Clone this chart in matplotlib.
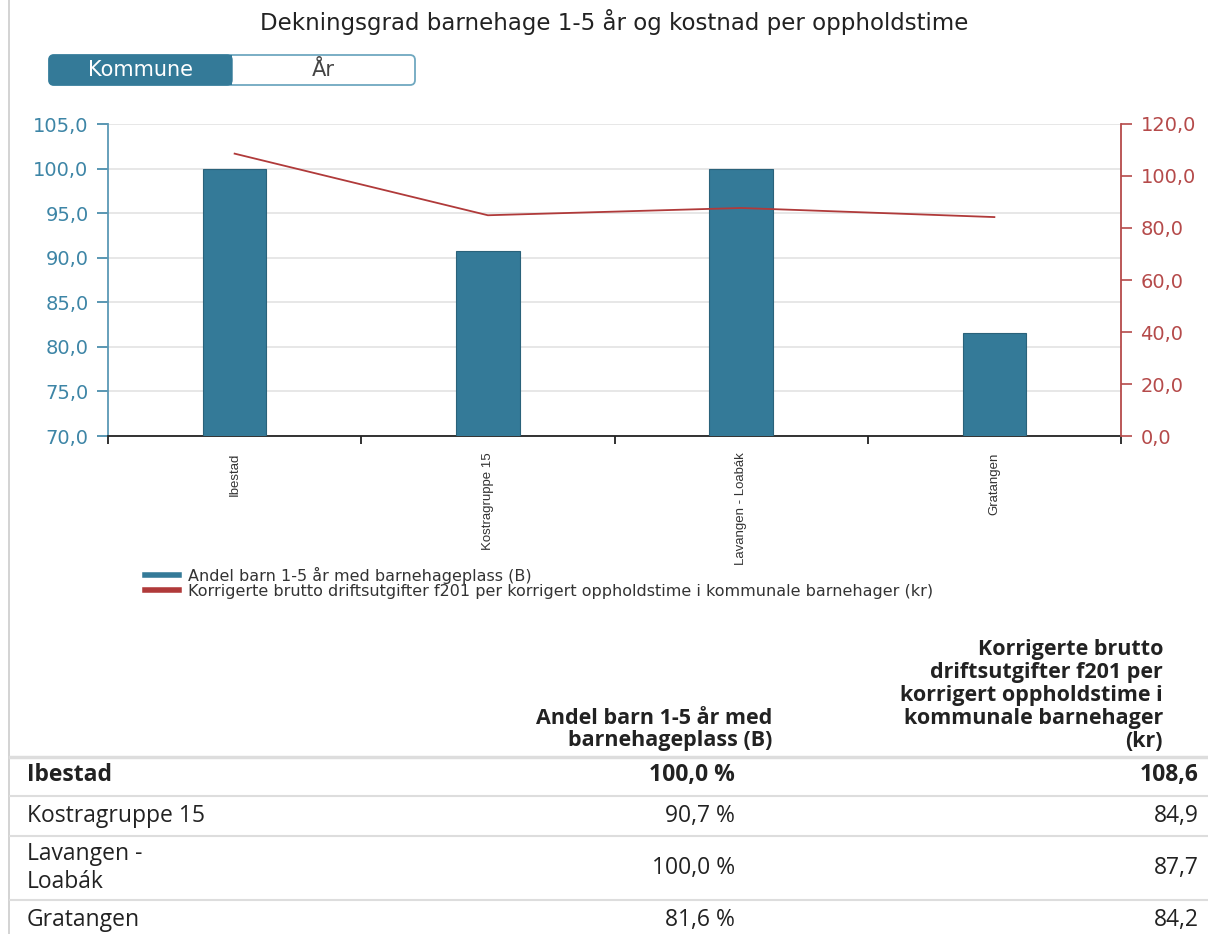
import matplotlib
matplotlib.use("Agg")
import matplotlib.pyplot as plt
from matplotlib.patches import FancyBboxPatch, Rectangle
from matplotlib.lines import Line2D
from matplotlib.ticker import FixedLocator, FuncFormatter

# ---- data ----
categories = ["Ibestad", "Kostragruppe 15", "Lavangen - Loabák", "Gratangen"]
table_labels = ["Ibestad", "Kostragruppe 15", "Lavangen -\nLoabák", "Gratangen"]
coverage = [100.0, 90.7, 100.0, 81.6]          # Andel barn 1-5 år med barnehageplass (B)
cost = [108.6, 84.9, 87.7, 84.2]               # kr per korrigert oppholdstime
series_names = ["Andel barn 1-5 år med barnehageplass (B)",
                "Korrigerte brutto driftsutgifter f201 per korrigert oppholdstime i kommunale barnehager (kr)"]
title = "Dekningsgrad barnehage 1-5 år og kostnad per oppholdstime"
left_ticks = [70, 75, 80, 85, 90, 95, 100, 105]
right_ticks = [0, 20, 40, 60, 80, 100, 120]
header_col1 = ["Andel barn 1-5 år med", "barnehageplass (B)"]
header_col2 = ["Korrigerte brutto", "driftsutgifter f201 per", "korrigert oppholdstime i",
               "kommunale barnehager", "(kr)"]
toggle_labels = ["Kommune", "År"]

BLUE = "#347a98"
BLUE_TXT = "#3d85a6"
RED = "#b03a3a"
RED_TXT = "#b54a4a"

W, H = 1208, 934
fig = plt.figure(figsize=(W / 100, H / 100), dpi=100)
fig.patch.set_facecolor("white")

def fx(x):
    return x / W

def fy(y):
    return 1 - y / H

def fmt(v, _=None):
    return f"{v:.1f}".replace(".", ",")

# left page border
fig.add_artist(Line2D([fx(9), fx(9)], [0, 1], color="#cccccc", lw=1.2))

# title
fig.text(fx(614), fy(22), title, ha="center", va="center", fontsize=16.5,
         family="DejaVu Sans", color="#222222")

# toggle
ax_t = fig.add_axes([0, 0, 1, 1], zorder=-1)
ax_t.set_xlim(0, W); ax_t.set_ylim(H, 0); ax_t.axis("off")
box = FancyBboxPatch((49, 55), 366, 30, boxstyle="round,pad=0,rounding_size=5",
                     fc="white", ec="#6fa8c0", lw=1.3)
ax_t.add_patch(box)
left_box = FancyBboxPatch((49, 55), 183, 30, boxstyle="round,pad=0,rounding_size=5",
                          fc=BLUE, ec=BLUE, lw=1.0)
ax_t.add_patch(left_box)
ax_t.add_patch(Rectangle((222, 55), 10, 30, fc=BLUE, ec="none"))
ax_t.text(141, 70, toggle_labels[0], ha="center", va="center", color="white",
          fontsize=15, family="DejaVu Sans")
ax_t.text(323, 70, toggle_labels[1], ha="center", va="center", color="#444444",
          fontsize=15, family="DejaVu Sans")

# ---- chart ----
ax = fig.add_axes([fx(108), fy(436), fx(1121) - fx(108), fy(124) - fy(436)])
x = list(range(len(categories)))
ax.bar(x, coverage, width=0.25, color=BLUE, edgecolor="#2a627a", linewidth=0.8, zorder=3)
ax.set_xlim(-0.5, len(categories) - 0.5)
ax.set_ylim(70, 105)
ax.yaxis.set_major_locator(FixedLocator(left_ticks))
ax.yaxis.set_major_formatter(FuncFormatter(fmt))
ax.grid(axis="y", color="#e3e3e3", lw=1.2, zorder=0)
ax.set_axisbelow(True)
ax.tick_params(axis="y", colors=BLUE_TXT, labelsize=14, length=8, width=1.2, pad=6)
for lab in ax.get_yticklabels():
    lab.set_family("DejaVu Sans")
ax.spines["left"].set_color("#5b98b5")
ax.spines["left"].set_linewidth(1.3)
ax.spines["bottom"].set_color("#222222")
ax.spines["bottom"].set_linewidth(1.3)
ax.spines["top"].set_visible(False)
ax.spines["right"].set_visible(False)

ax.set_xticks(x)
ax.set_xticklabels(categories, rotation=90, fontsize=9.5, family="Liberation Sans",
                   color="#333333", va="top", ha="center")
ax.tick_params(axis="x", length=0, pad=12)
ax.set_xticks([i - 0.5 for i in range(len(categories) + 1)], minor=True)
ax.tick_params(axis="x", which="minor", length=6, width=1.3, color="#222222")

ax2 = ax.twinx()
ax2.plot(x, cost, color=RED, lw=1.3, zorder=4)
ax2.set_ylim(0, 120)
ax2.yaxis.set_major_locator(FixedLocator(right_ticks))
ax2.yaxis.set_major_formatter(FuncFormatter(fmt))
ax2.tick_params(axis="y", colors=RED_TXT, labelsize=14, length=8, width=1.2, pad=6)
for lab in ax2.get_yticklabels():
    lab.set_family("DejaVu Sans")
ax2.spines["right"].set_color(RED_TXT)
ax2.spines["right"].set_linewidth(1.3)
for s in ["left", "top", "bottom"]:
    ax2.spines[s].set_visible(False)

# legend
handles = [Line2D([], [], color=BLUE, lw=4), Line2D([], [], color=RED, lw=4)]
fig.legend(handles, series_names, loc="upper left", bbox_to_anchor=(fx(145), fy(567)),
           frameon=False, prop={"family": "DejaVu Sans", "size": 11.5},
           handlelength=2.1, handletextpad=0.6, labelspacing=0.0, labelcolor="#333333",
           borderaxespad=0, borderpad=0)

# ---- table ----
hdr_font = dict(family="Open Sans", weight="bold", fontsize=15.5, color="#222222")
for i, line in enumerate(header_col2):
    fig.text(fx(1163), fy(650 + 22.8 * i), line, ha="right", va="center", **hdr_font)
for i, line in enumerate(header_col1):
    fig.text(fx(772), fy(718 + 22.8 * i), line, ha="right", va="center", **hdr_font)

sep_color = "#dddddd"
fig.add_artist(Line2D([fx(10), 1], [fy(757), fy(757)], color=sep_color, lw=2.5))
for yy in [796, 836, 900]:
    fig.add_artist(Line2D([fx(10), 1], [fy(yy), fy(yy)], color=sep_color, lw=1.5))

row_y = [775, 816, 868, 920]
for i, (lab, c1, c2) in enumerate(zip(table_labels, coverage, cost)):
    w = "bold" if i == 0 else "normal"
    fig.text(fx(27), fy(row_y[i]), lab, ha="left", va="center", family="Open Sans",
             fontsize=16.5, weight=w, color="#222222", linespacing=1.2)
    fig.text(fx(735), fy(row_y[i]), fmt(c1) + " %", ha="right", va="center",
             family="Open Sans", fontsize=16.5, weight=w, color="#222222")
    fig.text(fx(1199), fy(row_y[i]), fmt(c2), ha="right", va="center",
             family="Open Sans", fontsize=16.5, weight=w, color="#222222")

fig.savefig("out.png", dpi=100)
